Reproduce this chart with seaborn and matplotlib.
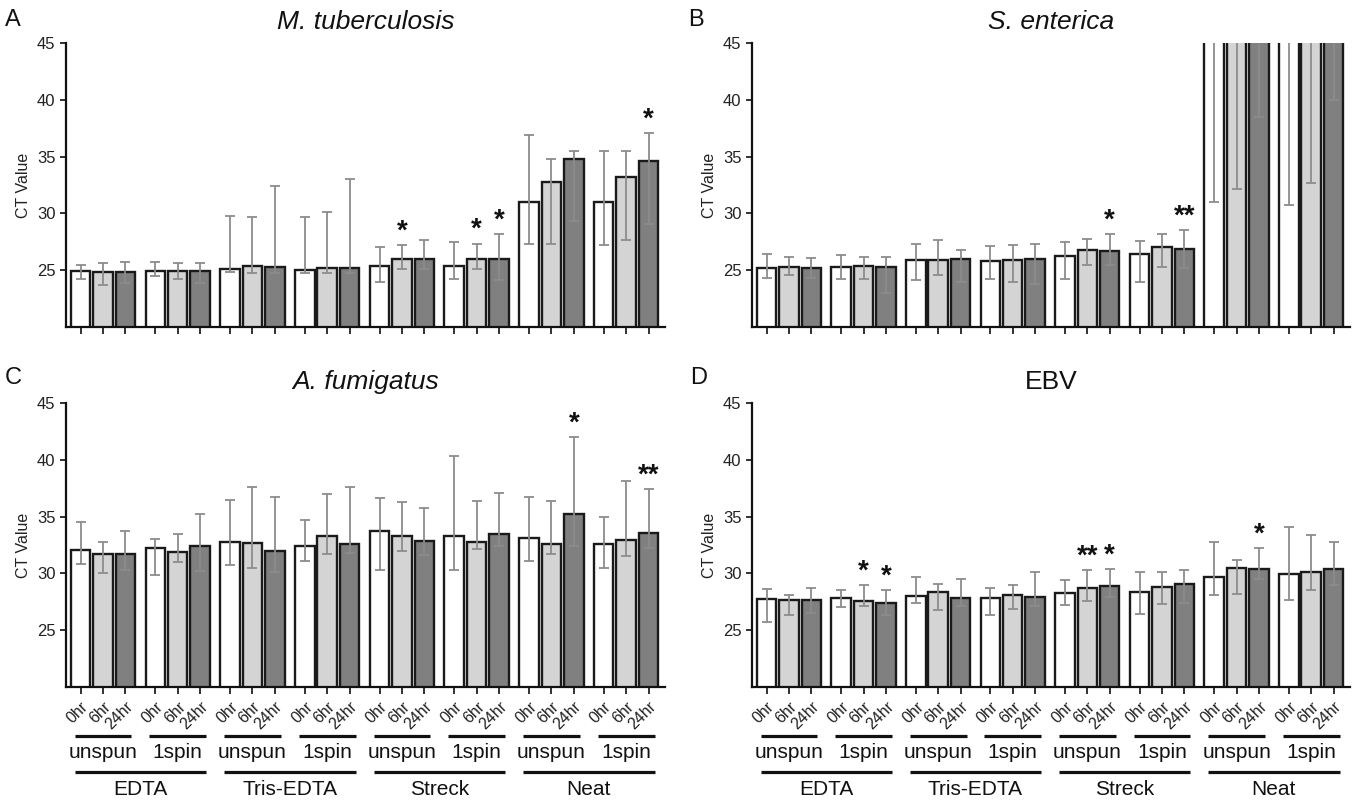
import numpy as np
import pandas as pd
import matplotlib
matplotlib.use("Agg")
import matplotlib.pyplot as plt
import matplotlib.transforms as mtransforms
import seaborn as sns

# ---------------- data ----------------
preservatives = ["EDTA", "Tris-EDTA", "Streck", "Neat"]
spins = ["unspun", "1spin"]
times = ["0hr", "6hr", "24hr"]
conds = [f"{p} {s}" for p in preservatives for s in spins]

# order: EDTA unspun (0,6,24), EDTA 1spin, Tris unspun, Tris 1spin, Streck unspun, Streck 1spin, Neat unspun, Neat 1spin
mtb_mean = [24.95, 24.85, 24.85, 24.9, 24.9, 24.95, 25.1, 25.4, 25.3, 25.05, 25.15, 25.2,
            25.4, 26.0, 26.0, 25.4, 26.0, 26.0, 31.0, 32.8, 34.75, 31.0, 33.2, 34.6]
mtb_lo = [24.2, 23.7, 23.9, 24.5, 24.2, 23.9, 24.85, 24.75, 24.75, 24.75, 24.75, 24.75,
          24.0, 25.1, 25.1, 24.25, 25.1, 24.1, 27.35, 27.35, 29.35, 27.25, 27.7, 29.1]
mtb_hi = [25.5, 25.6, 25.7, 25.7, 25.65, 25.65, 29.75, 29.65, 32.45, 29.65, 30.1, 33.0,
          27.05, 27.2, 27.65, 27.45, 27.35, 28.15, 36.9, 34.8, 35.5, 35.45, 35.5, 37.05]
mtb_star = ["", "", "", "", "", "", "", "", "", "", "", "",
            "", "*", "", "", "*", "*", "", "", "", "", "", "*"]

sen_mean = [25.2, 25.3, 25.2, 25.25, 25.4, 25.3, 25.9, 25.9, 25.95, 25.8, 25.9, 26.0,
            26.25, 26.8, 26.7, 26.45, 27.0, 26.9, 50.0, 50.0, 50.0, 50.0, 50.0, 50.0]
sen_lo = [24.35, 24.55, 24.35, 24.2, 24.2, 23.0, 24.1, 24.55, 24.0, 24.25, 24.0, 23.75,
          24.2, 25.45, 25.45, 24.0, 25.25, 25.15, 31.0, 32.15, 38.45, 30.7, 32.65, 40.0]
sen_hi = [26.4, 26.2, 26.05, 26.3, 26.2, 26.2, 27.3, 27.65, 26.75, 27.1, 27.2, 27.3,
          27.5, 27.75, 28.2, 27.6, 28.2, 28.5, 69.0, 67.85, 61.55, 69.3, 67.35, 60.0]
sen_star = ["", "", "", "", "", "", "", "", "", "", "", "",
            "", "", "*", "", "", "**", "", "", "", "", "", ""]

afu_mean = [32.06, 31.7, 31.7, 32.26, 31.85, 32.4, 32.8, 32.7, 31.95, 32.4, 33.3, 32.6,
            33.7, 33.3, 32.85, 33.3, 32.75, 33.5, 33.15, 32.6, 35.2, 32.6, 32.95, 33.6]
afu_lo = [30.8, 30.0, 30.3, 29.9, 31.0, 30.2, 30.7, 30.5, 30.1, 31.1, 31.7, 31.8,
          30.3, 31.95, 31.6, 30.3, 32.15, 32.45, 31.1, 31.7, 32.45, 30.5, 31.5, 32.25]
afu_hi = [34.5, 32.8, 33.7, 33.0, 33.5, 35.2, 36.5, 37.6, 36.7, 34.7, 37.0, 37.6,
          36.6, 36.3, 35.8, 40.3, 36.4, 37.1, 36.7, 36.4, 42.0, 35.0, 38.1, 37.4]
afu_star = ["", "", "", "", "", "", "", "", "", "", "", "",
            "", "", "", "", "", "", "", "", "*", "", "", "**"]

ebv_mean = [27.78, 27.65, 27.7, 27.8, 27.6, 27.4, 28.05, 28.4, 27.8, 27.8, 28.1, 27.9,
            28.3, 28.75, 28.9, 28.35, 28.8, 29.05, 29.65, 30.45, 30.35, 29.95, 30.1, 30.35]
ebv_lo = [25.7, 26.35, 26.5, 27.0, 27.1, 26.3, 27.4, 26.8, 27.1, 26.3, 26.9, 27.1,
          27.2, 27.55, 27.9, 26.4, 27.3, 27.4, 28.1, 28.2, 29.5, 27.7, 28.5, 29.0]
ebv_hi = [28.6, 28.1, 28.7, 28.5, 29.0, 28.5, 29.7, 29.1, 29.5, 28.7, 29.0, 30.15,
          29.4, 30.3, 30.4, 30.1, 30.1, 30.3, 32.8, 31.2, 32.2, 34.1, 33.4, 32.8]
ebv_star = ["", "", "", "", "*", "*", "", "", "", "", "", "",
            "", "**", "*", "", "", "", "", "", "*", "", "", ""]

panels = [
    ("A", "M. tuberculosis", True, mtb_mean, mtb_lo, mtb_hi, mtb_star),
    ("B", "S. enterica", True, sen_mean, sen_lo, sen_hi, sen_star),
    ("C", "A. fumigatus", True, afu_mean, afu_lo, afu_hi, afu_star),
    ("D", "EBV", False, ebv_mean, ebv_lo, ebv_hi, ebv_star),
]

bar_colors = ["#ffffff", "#d4d4d4", "#808080"]

# ---------------- style ----------------
sns.set_theme(style="ticks")
plt.rcParams["font.family"] = ["Liberation Sans", "DejaVu Sans"]

W, H = 1355, 801
fig = plt.figure(figsize=(W / 100, H / 100), dpi=100)

boxes = {"A": (66, 43, 665, 327), "B": (752, 43, 1350, 327),
         "C": (66, 403, 665, 687), "D": (752, 403, 1350, 687)}
letter_pos = {"A": (5, 20), "B": (688, 20), "C": (5, 378), "D": (690, 378)}

for letter, title, italic, mean, lo, hi, stars in panels:
    x0, y0, x1, y1 = boxes[letter]
    ax = fig.add_axes([x0 / W, 1 - y1 / H, (x1 - x0) / W, (y1 - y0) / H])
    bottom_row = letter in ("C", "D")

    df = pd.DataFrame({"cond": np.repeat(conds, 3), "time": times * len(conds), "ct": mean})
    sns.barplot(data=df, x="cond", y="ct", hue="time", order=conds, hue_order=times,
                palette=bar_colors, saturation=1, edgecolor="#1a1a1a", linewidth=1.7,
                width=0.9, gap=0.13, errorbar=None, legend=False, ax=ax, zorder=2)

    rects = sorted(ax.patches, key=lambda p: p.get_x())
    centers = np.array([p.get_x() + p.get_width() / 2 for p in rects])
    m = np.array(mean)
    ax.errorbar(centers, m, yerr=[m - np.array(lo), np.array(hi) - m], fmt="none",
                ecolor="#8c8c8c", elinewidth=1.3, capsize=3.8, capthick=1.3, zorder=3)

    for c, h, s in zip(centers, hi, stars):
        if s:
            ax.text(c, h + 0.05, s, ha="center", va="bottom", fontsize=20,
                    fontweight="bold", color="#111111", zorder=4)

    ax.set_ylim(20, 45)
    ax.set_xlim(-0.495, 7.52)
    ax.set_yticks([25, 30, 35, 40, 45])
    ax.set_xticks(centers)
    if bottom_row:
        ax.set_xticklabels(times * len(conds), rotation=45, ha="right",
                           rotation_mode="anchor", fontsize=11.5, color="#222222")
    else:
        ax.set_xticklabels([""] * len(centers))
    ax.tick_params(axis="y", labelsize=12, colors="#222222", length=4, width=1.3)
    ax.tick_params(axis="x", length=5, width=1.3, colors="#222222")
    ax.set_xlabel("")
    ax.set_ylabel("CT Value", fontsize=11.5, color="#222222")
    ax.yaxis.set_label_coords(-0.058, 0.5)
    sns.despine(ax=ax)
    for sp in ("left", "bottom"):
        ax.spines[sp].set_linewidth(1.6)
        ax.spines[sp].set_color("#111111")

    ax.set_title(title, fontsize=19, style="italic" if italic else "normal",
                 pad=10, color="#111111")
    lx, ly = letter_pos[letter]
    fig.text(lx / W, 1 - ly / H, letter, fontsize=17, ha="left", va="center", color="#111111")

    if bottom_row:
        trans = mtransforms.blended_transform_factory(ax.transData, ax.transAxes)
        ext = 0.08
        for i, cond in enumerate(conds):
            a, b = centers[3 * i] - ext, centers[3 * i + 2] + ext
            ax.plot([a, b], [-0.1725, -0.1725], transform=trans, clip_on=False,
                    color="#111111", lw=2.3, solid_capstyle="butt")
            ax.text(centers[3 * i + 1], -0.232, spins[i % 2], transform=trans,
                    ha="center", va="center", fontsize=15, color="#111111")
        for j, pres in enumerate(preservatives):
            a, b = centers[6 * j] - ext, centers[6 * j + 5] + ext
            ax.plot([a, b], [-0.299, -0.299], transform=trans, clip_on=False,
                    color="#111111", lw=2.3, solid_capstyle="butt")
            ax.text((a + b) / 2, -0.362, pres, transform=trans, ha="center",
                    va="center", fontsize=15, color="#111111")

fig.savefig("out.png", dpi=100)
